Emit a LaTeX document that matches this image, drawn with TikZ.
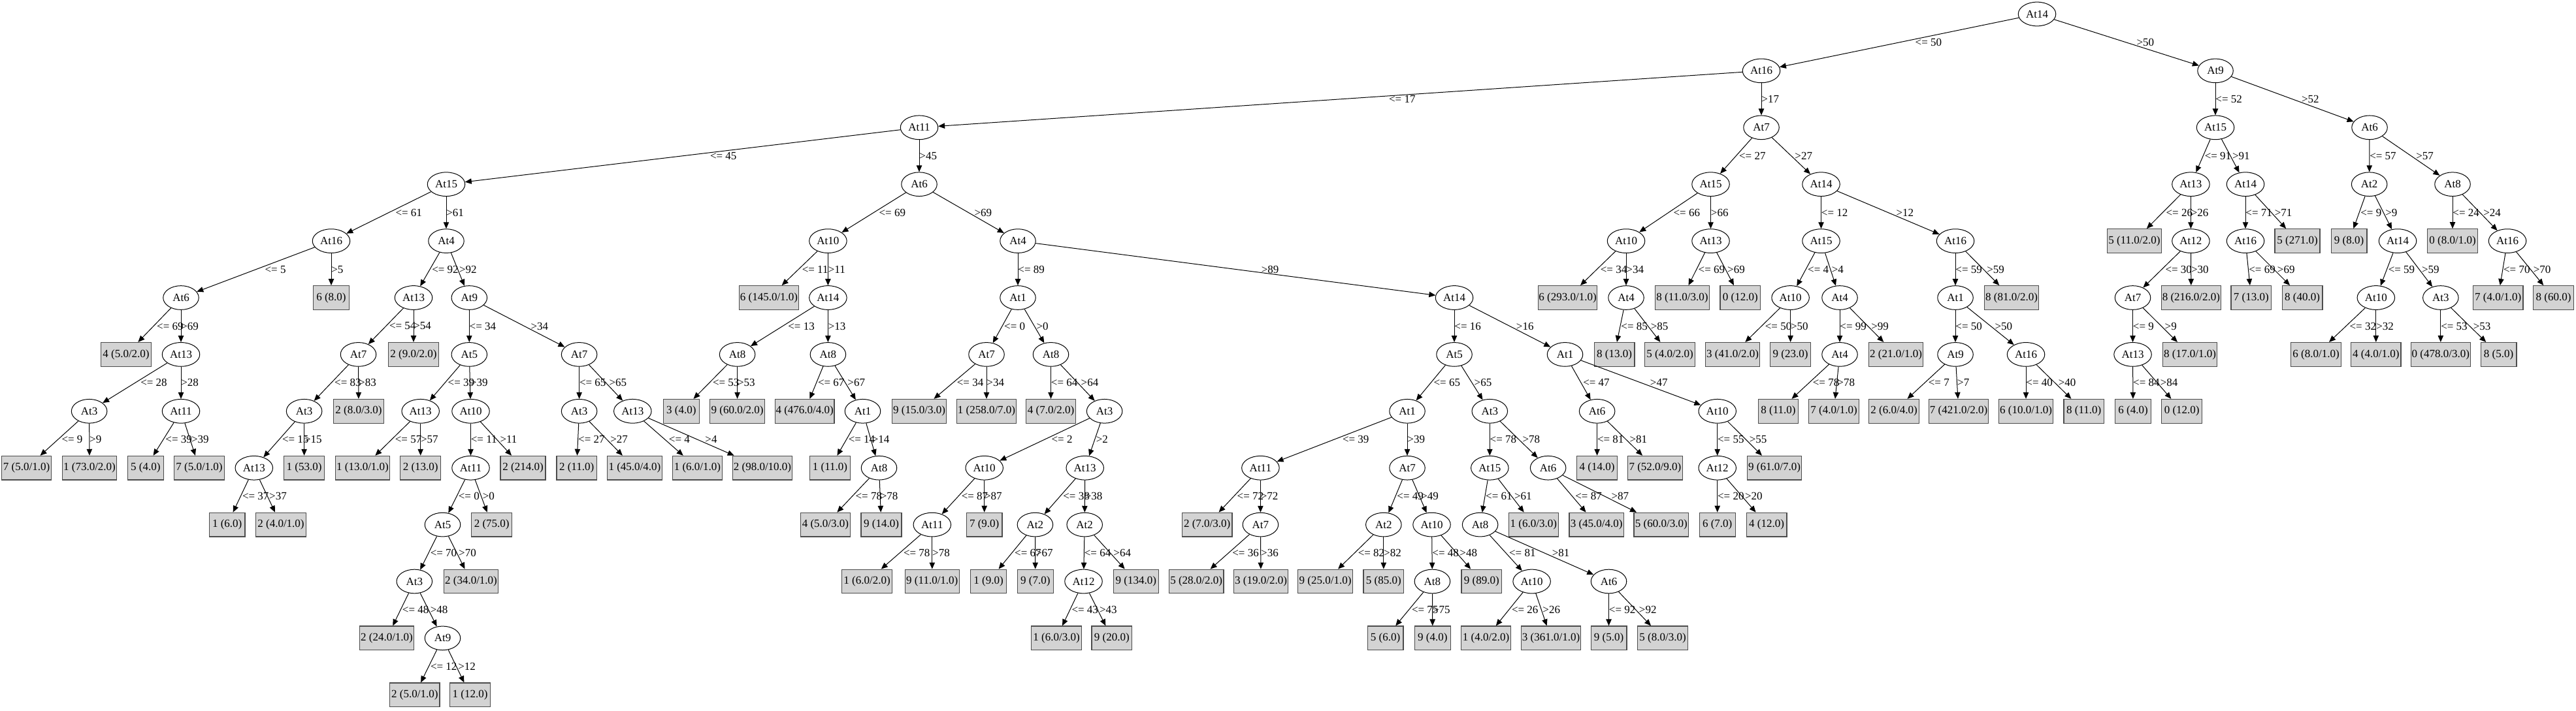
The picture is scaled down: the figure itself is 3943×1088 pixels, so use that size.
\documentclass[tikz,border=0pt]{standalone}
\usepackage{fontspec}
\setmainfont{Liberation Serif}
\usetikzlibrary{arrows.meta,shapes.geometric}
\definecolor{leafgray}{RGB}{211,211,211}
\newlength\lfw
\newcommand\lf[1]{\settowidth\lfw{#1}\lfw=0.835\lfw\addtolength\lfw{8.45pt}\makebox[\lfw][c]{#1}}
\newcommand\TN[5]{\expandafter\def\csname nx@#1\endcsname{#2}\expandafter\def\csname nl@#1\endcsname{#3}\node[#4] (#1) at (#2,{21.5+86.9*#3}) {#5};}
\newcommand\IA[4]{\TN{#1}{#2}{#3}{attA}{#4}}
\newcommand\IB[4]{\TN{#1}{#2}{#3}{attB}{#4}}
\newcommand\LF[4]{\TN{#1}{#2}{#3}{leaf}{\lf{#4}}}
\newcommand\ED[3]{\pgfmathsetmacro\edx{0.5*(\csname nx@#1\endcsname+\csname nx@#2\endcsname)+5*abs(\csname nx@#2\endcsname-\csname nx@#1\endcsname)/86.9}\pgfmathsetmacro\edy{21.5+86.9*(\csname nl@#1\endcsname+0.5)}\draw[conn] (#1) -- (#2); \node[elbl] (e-#1-#2) at (\edx,\edy) {#3};}
\tikzset{
  txt/.style={font=\fontsize{8.5pt}{10pt}\selectfont},
  attA/.style={txt,ellipse,draw=black,line width=0.5pt,fill=white,inner sep=0pt,minimum width=27.25pt,minimum height=18.35pt},
  attB/.style={attA,minimum width=28.75pt},
  leaf/.style={txt,rectangle,draw=black!70,line width=0.6pt,fill=leafgray,inner xsep=0pt,inner ysep=0pt,minimum height=18.35pt},
  conn/.style={draw=black,line width=0.5pt,-{Triangle[length=5pt,width=4.2pt]}},
  elbl/.style={txt,anchor=west,inner sep=0pt}
}
\begin{document}
\begin{tikzpicture}[x=0.5pt,y=-0.5pt]
\fill[white] (0,0) rectangle (3943,1088);
\useasboundingbox (0,0) rectangle (3943,1088);
% L0
\IB{r}{3118}{0}{At14}
% L1
\IB{A}{2696}{1}{At16}
\IA{BX}{3391}{1}{At9}
% L2
\IB{B}{1407}{2}{At11}
\IA{BJ}{2696}{2}{At7}
\IB{BY}{3391}{2}{At15}
\IA{CF}{3627}{2}{At6}
% L3
\IB{C}{683}{3}{At15}
\IA{Y}{1407}{3}{At6}
\IB{BK}{2618.5}{3}{At15}
\IB{BO}{2787.5}{3}{At14}
\IB{BZ}{3353.4}{3}{At13}
\IB{CD}{3437}{3}{At14}
\IA{CG}{3626.6}{3}{At2}
\IA{CK}{3754}{3}{At8}
% L4
\IB{D}{507}{4}{At16}
\IA{I}{683}{4}{At4}
\IB{Z}{1267.4}{4}{At10}
\IA{AF}{1558}{4}{At4}
\IB{BL}{2489}{4}{At10}
\IB{BN}{2618.5}{4}{At13}
\IB{BP}{2787.5}{4}{At15}
\IB{BT}{2993}{4}{At16}
\LF{l01}{3267}{4}{5 (11.0/2.0)}
\IB{CA}{3353.4}{4}{At12}
\IB{CE}{3437}{4}{At16}
\LF{l02}{3516.5}{4}{5 (271.0)}
\LF{l03}{3595.6}{4}{9 (8.0)}
\IB{CH}{3670}{4}{At14}
\LF{l04}{3754}{4}{0 (8.0/1.0)}
\IB{CL}{3838}{4}{At16}
% L5
\IA{E}{277}{5}{At6}
\LF{l05}{507}{5}{6 (8.0)}
\IB{J}{633}{5}{At13}
\IA{N}{718.3}{5}{At9}
\LF{l06}{1177}{5}{6 (145.0/1.0)}
\IB{AA}{1267.4}{5}{At14}
\IA{AG}{1558}{5}{At1}
\IB{AQ}{2226}{5}{At14}
\LF{l07}{2399.5}{5}{6 (293.0/1.0)}
\IA{BM}{2489}{5}{At4}
\LF{l08}{2575}{5}{8 (11.0/3.0)}
\LF{l09}{2663.8}{5}{0 (12.0)}
\IB{BQ}{2740.6}{5}{At10}
\IA{BR}{2816}{5}{At4}
\IA{BU}{2993}{5}{At1}
\LF{l10}{3079}{5}{8 (81.0/2.0)}
\IA{CB}{3264.5}{5}{At7}
\LF{l11}{3353.9}{5}{8 (216.0/2.0)}
\LF{l12}{3445.8}{5}{7 (13.0)}
\LF{l13}{3524}{5}{8 (40.0)}
\IB{CI}{3636.8}{5}{At10}
\IA{CJ}{3735.8}{5}{At3}
\LF{l14}{3823.7}{5}{7 (4.0/1.0)}
\LF{l15}{3908.6}{5}{8 (60.0)}
% L6
\LF{l16}{193}{6}{4 (5.0/2.0)}
\IB{F}{277}{6}{At13}
\IA{K}{548.5}{6}{At7}
\LF{l17}{633}{6}{2 (9.0/2.0)}
\IA{O}{718.3}{6}{At5}
\IA{V}{886.6}{6}{At7}
\IA{AB}{1128.6}{6}{At8}
\IA{AC}{1267.4}{6}{At8}
\IA{AH}{1510}{6}{At7}
\IA{AI}{1608.5}{6}{At8}
\IA{AR}{2226}{6}{At5}
\IA{BF}{2395.5}{6}{At1}
\LF{l18}{2471}{6}{8 (13.0)}
\LF{l19}{2556}{6}{5 (4.0/2.0)}
\LF{l20}{2652}{6}{3 (41.0/2.0)}
\LF{l21}{2740.6}{6}{9 (23.0)}
\IA{BS}{2816}{6}{At4}
\LF{l22}{2902}{6}{2 (21.0/1.0)}
\IA{BV}{2993}{6}{At9}
\IB{BW}{3101}{6}{At16}
\IB{CC}{3264.5}{6}{At13}
\LF{l23}{3352}{6}{8 (17.0/1.0)}
\LF{l24}{3545}{6}{6 (8.0/1.0)}
\LF{l25}{3636.8}{6}{4 (4.0/1.0)}
\LF{l26}{3735.8}{6}{0 (478.0/3.0)}
\LF{l27}{3824.6}{6}{8 (5.0)}
% L7
\IA{G}{136.6}{7}{At3}
\IB{H}{277}{7}{At11}
\IA{L}{465.6}{7}{At3}
\LF{l28}{549}{7}{2 (8.0/3.0)}
\IB{P}{643.7}{7}{At13}
\IB{Q}{720.5}{7}{At10}
\IA{W}{886.6}{7}{At3}
\IB{X}{968.3}{7}{At13}
\LF{l29}{1042.8}{7}{3 (4.0)}
\LF{l30}{1128.6}{7}{9 (60.0/2.0)}
\LF{l31}{1231.7}{7}{4 (476.0/4.0)}
\IA{AD}{1320.5}{7}{At1}
\LF{l32}{1407}{7}{9 (15.0/3.0)}
\LF{l33}{1510}{7}{1 (258.0/7.0)}
\LF{l34}{1608.5}{7}{4 (7.0/2.0)}
\IA{AJ}{1690.6}{7}{At3}
\IA{AS}{2154}{7}{At1}
\IA{AZ}{2280.3}{7}{At3}
\IA{BG}{2444.6}{7}{At6}
\IB{BH}{2628.7}{7}{At10}
\LF{l35}{2722}{7}{8 (11.0)}
\LF{l36}{2807}{7}{7 (4.0/1.0)}
\LF{l37}{2899}{7}{2 (6.0/4.0)}
\LF{l38}{2998}{7}{7 (421.0/2.0)}
\LF{l39}{3101}{7}{6 (10.0/1.0)}
\LF{l40}{3189.7}{7}{8 (11.0)}
\LF{l41}{3265}{7}{6 (4.0)}
\LF{l42}{3339.7}{7}{0 (12.0)}
% L8
\LF{l43}{40.6}{8}{7 (5.0/1.0)}
\LF{l44}{137}{8}{1 (73.0/2.0)}
\LF{l45}{222.8}{8}{5 (4.0)}
\LF{l46}{305}{8}{7 (5.0/1.0)}
\IB{M}{388.8}{8}{At13}
\LF{l47}{465.6}{8}{1 (53.0)}
\LF{l48}{555}{8}{1 (13.0/1.0)}
\LF{l49}{643.7}{8}{2 (13.0)}
\IB{R}{720.5}{8}{At11}
\LF{l50}{800.5}{8}{2 (214.0)}
\LF{l51}{882.6}{8}{2 (11.0)}
\LF{l52}{971.4}{8}{1 (45.0/4.0)}
\LF{l53}{1067.4}{8}{1 (6.0/1.0)}
\LF{l54}{1167}{8}{2 (98.0/10.0)}
\LF{l55}{1270.5}{8}{1 (11.0)}
\IA{AE}{1345.5}{8}{At8}
\IB{AK}{1506.7}{8}{At10}
\IB{AM}{1660.7}{8}{At13}
\IB{AT}{1929.4}{8}{At11}
\IA{AV}{2154}{8}{At7}
\IB{BA}{2280.3}{8}{At15}
\IA{BE}{2369.6}{8}{At6}
\LF{l56}{2444.6}{8}{4 (14.0)}
\LF{l57}{2533.4}{8}{7 (52.0/9.0)}
\IB{BI}{2628.7}{8}{At12}
\LF{l58}{2716}{8}{9 (61.0/7.0)}
% L9
\LF{l59}{347.7}{9}{1 (6.0)}
\LF{l60}{430}{9}{2 (4.0/1.0)}
\IA{S}{677.5}{9}{At5}
\LF{l61}{752.7}{9}{2 (75.0)}
\LF{l62}{1263.4}{9}{4 (5.0/3.0)}
\LF{l63}{1349}{9}{9 (14.0)}
\IB{AL}{1426.8}{9}{At11}
\LF{l64}{1506.7}{9}{7 (9.0)}
\IA{AN}{1584.4}{9}{At2}
\IA{AO}{1660.2}{9}{At2}
\LF{l65}{1847.7}{9}{2 (7.0/3.0)}
\IA{AU}{1929.4}{9}{At7}
\IA{AW}{2117.8}{9}{At2}
\IB{AX}{2191.5}{9}{At10}
\IA{BB}{2265.6}{9}{At8}
\LF{l66}{2347.3}{9}{1 (6.0/3.0)}
\LF{l67}{2443.7}{9}{3 (45.0/4.0)}
\LF{l68}{2542.8}{9}{5 (60.0/3.0)}
\LF{l69}{2628.7}{9}{6 (7.0)}
\LF{l70}{2704}{9}{4 (12.0)}
% L10
\IA{T}{634.3}{10}{At3}
\LF{l71}{721}{10}{2 (34.0/1.0)}
\LF{l72}{1327}{10}{1 (6.0/2.0)}
\LF{l73}{1426.8}{10}{9 (11.0/1.0)}
\LF{l74}{1513}{10}{1 (9.0)}
\LF{l75}{1584.8}{10}{9 (7.0)}
\IB{AP}{1658.5}{10}{At12}
\LF{l76}{1738.8}{10}{9 (134.0)}
\LF{l77}{1831.2}{10}{5 (28.0/2.0)}
\LF{l78}{1930}{10}{3 (19.0/2.0)}
\LF{l79}{2028.6}{10}{9 (25.0/1.0)}
\LF{l80}{2117.8}{10}{5 (85.0)}
\IA{AY}{2192.4}{10}{At8}
\LF{l81}{2267.8}{10}{9 (89.0)}
\IB{BC}{2344.6}{10}{At10}
\IA{BD}{2462.5}{10}{At6}
% L11
\LF{l82}{592}{11}{2 (24.0/1.0)}
\IA{U}{677.5}{11}{At9}
\LF{l83}{1617}{11}{1 (6.0/3.0)}
\LF{l84}{1701.8}{11}{9 (20.0)}
\LF{l85}{2120.5}{11}{5 (6.0)}
\LF{l86}{2192.8}{11}{9 (4.0)}
\LF{l87}{2274.5}{11}{1 (4.0/2.0)}
\LF{l88}{2374}{11}{3 (361.0/1.0)}
\LF{l89}{2462.5}{11}{9 (5.0)}
\LF{l90}{2545}{11}{5 (8.0/3.0)}
% L12
\LF{l91}{634.8}{12}{2 (5.0/1.0)}
\LF{l92}{719.6}{12}{1 (12.0)}
% edges
\ED{r}{A}{<= 50}\ED{r}{BX}{>50}
\ED{A}{B}{<= 17}\ED{A}{BJ}{>17}
\ED{B}{C}{<= 45}\ED{B}{Y}{>45}
\ED{C}{D}{<= 61}\ED{C}{I}{>61}
\ED{D}{E}{<= 5}\ED{D}{l05}{>5}
\ED{E}{l16}{<= 69}\ED{E}{F}{>69}
\ED{F}{G}{<= 28}\ED{F}{H}{>28}
\ED{G}{l43}{<= 9}\ED{G}{l44}{>9}
\ED{H}{l45}{<= 39}\ED{H}{l46}{>39}
\ED{I}{J}{<= 92}\ED{I}{N}{>92}
\ED{J}{K}{<= 54}\ED{J}{l17}{>54}
\ED{K}{L}{<= 83}\ED{K}{l28}{>83}
\ED{L}{M}{<= 15}\ED{L}{l47}{>15}
\ED{M}{l59}{<= 37}\ED{M}{l60}{>37}
\ED{N}{O}{<= 34}\ED{N}{V}{>34}
\ED{O}{P}{<= 39}\ED{O}{Q}{>39}
\ED{P}{l48}{<= 57}\ED{P}{l49}{>57}
\ED{Q}{R}{<= 11}\ED{Q}{l50}{>11}
\ED{R}{S}{<= 0}\ED{R}{l61}{>0}
\ED{S}{T}{<= 70}\ED{S}{l71}{>70}
\ED{T}{l82}{<= 48}\ED{T}{U}{>48}
\ED{U}{l91}{<= 12}\ED{U}{l92}{>12}
\ED{V}{W}{<= 65}\ED{V}{X}{>65}
\ED{W}{l51}{<= 27}\ED{W}{l52}{>27}
\ED{X}{l53}{<= 4}\ED{X}{l54}{>4}
\ED{Y}{Z}{<= 69}\ED{Y}{AF}{>69}
\ED{Z}{l06}{<= 11}\ED{Z}{AA}{>11}
\ED{AA}{AB}{<= 13}\ED{AA}{AC}{>13}
\ED{AB}{l29}{<= 53}\ED{AB}{l30}{>53}
\ED{AC}{l31}{<= 67}\ED{AC}{AD}{>67}
\ED{AD}{l55}{<= 14}\ED{AD}{AE}{>14}
\ED{AE}{l62}{<= 78}\ED{AE}{l63}{>78}
\ED{AF}{AG}{<= 89}\ED{AF}{AQ}{>89}
\ED{AG}{AH}{<= 0}\ED{AG}{AI}{>0}
\ED{AH}{l32}{<= 34}\ED{AH}{l33}{>34}
\ED{AI}{l34}{<= 64}\ED{AI}{AJ}{>64}
\ED{AJ}{AK}{<= 2}\ED{AJ}{AM}{>2}
\ED{AK}{AL}{<= 87}\ED{AK}{l64}{>87}
\ED{AL}{l72}{<= 78}\ED{AL}{l73}{>78}
\ED{AM}{AN}{<= 38}\ED{AM}{AO}{>38}
\ED{AN}{l74}{<= 67}\ED{AN}{l75}{>67}
\ED{AO}{AP}{<= 64}\ED{AO}{l76}{>64}
\ED{AP}{l83}{<= 43}\ED{AP}{l84}{>43}
\ED{AQ}{AR}{<= 16}\ED{AQ}{BF}{>16}
\ED{AR}{AS}{<= 65}\ED{AR}{AZ}{>65}
\ED{AS}{AT}{<= 39}\ED{AS}{AV}{>39}
\ED{AT}{l65}{<= 72}\ED{AT}{AU}{>72}
\ED{AU}{l77}{<= 36}\ED{AU}{l78}{>36}
\ED{AV}{AW}{<= 49}\ED{AV}{AX}{>49}
\ED{AW}{l79}{<= 82}\ED{AW}{l80}{>82}
\ED{AX}{AY}{<= 48}\ED{AX}{l81}{>48}
\ED{AY}{l85}{<= 75}\ED{AY}{l86}{>75}
\ED{AZ}{BA}{<= 78}\ED{AZ}{BE}{>78}
\ED{BA}{BB}{<= 61}\ED{BA}{l66}{>61}
\ED{BB}{BC}{<= 81}\ED{BB}{BD}{>81}
\ED{BC}{l87}{<= 26}\ED{BC}{l88}{>26}
\ED{BD}{l89}{<= 92}\ED{BD}{l90}{>92}
\ED{BE}{l67}{<= 87}\ED{BE}{l68}{>87}
\ED{BF}{BG}{<= 47}\ED{BF}{BH}{>47}
\ED{BG}{l56}{<= 81}\ED{BG}{l57}{>81}
\ED{BH}{BI}{<= 55}\ED{BH}{l58}{>55}
\ED{BI}{l69}{<= 20}\ED{BI}{l70}{>20}
\ED{BJ}{BK}{<= 27}\ED{BJ}{BO}{>27}
\ED{BK}{BL}{<= 66}\ED{BK}{BN}{>66}
\ED{BL}{l07}{<= 34}\ED{BL}{BM}{>34}
\ED{BM}{l18}{<= 85}\ED{BM}{l19}{>85}
\ED{BN}{l08}{<= 69}\ED{BN}{l09}{>69}
\ED{BO}{BP}{<= 12}\ED{BO}{BT}{>12}
\ED{BP}{BQ}{<= 4}\ED{BP}{BR}{>4}
\ED{BQ}{l20}{<= 50}\ED{BQ}{l21}{>50}
\ED{BR}{BS}{<= 99}\ED{BR}{l22}{>99}
\ED{BS}{l35}{<= 78}\ED{BS}{l36}{>78}
\ED{BT}{BU}{<= 59}\ED{BT}{l10}{>59}
\ED{BU}{BV}{<= 50}\ED{BU}{BW}{>50}
\ED{BV}{l37}{<= 7}\ED{BV}{l38}{>7}
\ED{BW}{l39}{<= 40}\ED{BW}{l40}{>40}
\ED{BX}{BY}{<= 52}\ED{BX}{CF}{>52}
\ED{BY}{BZ}{<= 91}\ED{BY}{CD}{>91}
\ED{BZ}{l01}{<= 26}\ED{BZ}{CA}{>26}
\ED{CA}{CB}{<= 30}\ED{CA}{l11}{>30}
\ED{CB}{CC}{<= 9}\ED{CB}{l23}{>9}
\ED{CC}{l41}{<= 84}\ED{CC}{l42}{>84}
\ED{CD}{CE}{<= 71}\ED{CD}{l02}{>71}
\ED{CE}{l12}{<= 69}\ED{CE}{l13}{>69}
\ED{CF}{CG}{<= 57}\ED{CF}{CK}{>57}
\ED{CG}{l03}{<= 9}\ED{CG}{CH}{>9}
\ED{CH}{CI}{<= 59}\ED{CH}{CJ}{>59}
\ED{CI}{l24}{<= 32}\ED{CI}{l25}{>32}
\ED{CJ}{l26}{<= 53}\ED{CJ}{l27}{>53}
\ED{CK}{l04}{<= 24}\ED{CK}{CL}{>24}
\ED{CL}{l14}{<= 70}\ED{CL}{l15}{>70}
\end{tikzpicture}
\end{document}
